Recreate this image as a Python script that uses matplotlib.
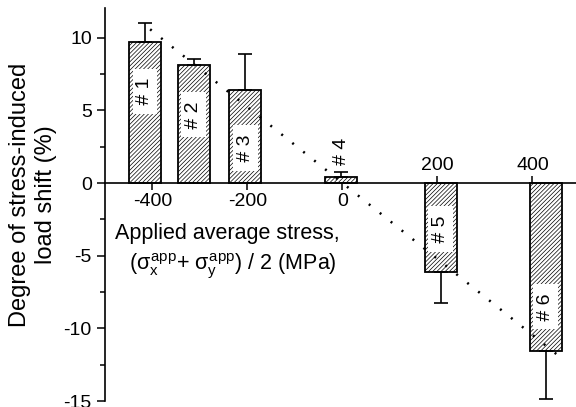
import numpy as np
import matplotlib as mpl
mpl.use('Agg')
import matplotlib.pyplot as plt
from matplotlib.ticker import MultipleLocator

# applied average stress (MPa) of each sample and measured load shift (%)
stress = [-416, -313, -205, -3, 207, 428]
shift = [9.68, 8.10, 6.42, 0.39, -6.10, -11.56]
err = [1.35, 0.43, 2.48, 0.39, 2.14, 3.30]
names = ['# 1', '# 2', '# 3', '# 4', '# 5', '# 6']
name_y = [6.3, 4.71, 2.4, 2.15, -3.17, -8.5]
xticks = [-400, -200, 0, 200, 400]
yticks = [10, 5, 0, -5, -10, -15]
trend_x = [-405, 455]

plt.rcParams['font.family'] = ['Liberation Sans', 'DejaVu Sans']
plt.rcParams['axes.unicode_minus'] = False
plt.rcParams['hatch.linewidth'] = 0.5
plt.rcParams['mathtext.fontset'] = 'custom'
plt.rcParams['mathtext.rm'] = 'Liberation Sans'
plt.rcParams['mathtext.it'] = 'Liberation Sans'
plt.rcParams['mathtext.bf'] = 'Liberation Sans:bold'

fig = plt.figure(figsize=(5.76, 4.07), dpi=100)
ax = fig.add_axes([105/576, 6/407, 471/576, 393/407])
ax.set_xlim(-500, 491.6)
ax.set_ylim(-15, 12.05)

for s in ['top', 'right']:
    ax.spines[s].set_visible(False)
ax.spines['bottom'].set_position(('data', 0))
ax.spines['bottom'].set_linewidth(1.2)
ax.spines['left'].set_linewidth(1.2)

ax.bar(stress, shift, width=67, color='white', edgecolor='black',
       hatch='////////', linewidth=1.3, zorder=2)

#error bars only point away from zero
lower = [e if v < 0 else 0 for v, e in zip(shift, err)]
upper = [e if v > 0 else 0 for v, e in zip(shift, err)]
ax.errorbar(stress, shift, yerr=[lower, upper], fmt='none', ecolor='black',
            elinewidth=1.2, capsize=5, capthick=1.2, zorder=3)

#linear trend through the origin
x = np.array(stress, dtype=float)
y = np.array(shift)
slope = np.sum(x*y) / np.sum(x*x)
tx = np.array(trend_x, dtype=float)
ax.plot(tx, slope*tx, color='black', lw=1.8, linestyle=(0, (0.8, 4.8)),
        zorder=4)

#sample labels
for xi, yi, nm in zip(stress, name_y, names):
    if nm == '# 4':
        ax.text(xi, yi, nm, rotation=90, ha='center', va='center',
                fontsize=14, zorder=3)
    else:
        ax.text(xi, yi, ' ' + nm + ' ', rotation=90, ha='center', va='center',
                fontsize=14, zorder=3,
                bbox=dict(boxstyle='square,pad=0.2', fc='white', ec='none'))

ax.set_yticks(yticks)
ax.yaxis.set_minor_locator(MultipleLocator(2.5))
ax.tick_params(axis='y', which='major', direction='out', length=6, width=1.1,
               labelsize=14, pad=3.5)
ax.tick_params(axis='y', which='minor', direction='out', length=3.5, width=1.1)

ax.set_xticks(xticks)
ax.set_xticklabels([])
ax.tick_params(axis='x', which='major', direction='inout', length=9.4, width=1.1)

#negative ticks labelled below the axis, positive above
for t in xticks:
    off = 13 if t > 0 else -13
    ax.annotate(str(t), xy=(t, 0), xytext=(0, off), textcoords='offset points',
                ha='center', va='center', fontsize=14)

fig.text(227/576, 1-234/407, 'Applied average stress,', ha='center',
         va='center', fontsize=15.5)
fig.text(233/576, 1-266/407,
         r'($\sigma_{x}^{app}$+ $\sigma_{y}^{app}$) / 2 (MPa)',
         ha='center', va='center', fontsize=15.5)
fig.text(33/576, 1-195/407, 'Degree of stress-induced\nload shift (%)',
         rotation=90, ha='center', va='center', fontsize=17, linespacing=1.25)

fig.savefig('out.png', dpi=100)
